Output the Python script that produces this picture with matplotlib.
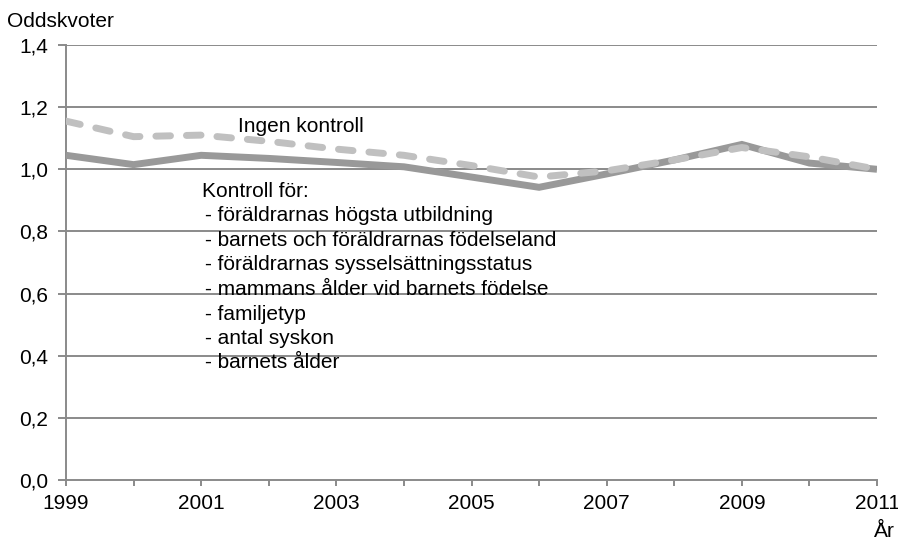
import matplotlib
matplotlib.use("Agg")
import matplotlib.pyplot as plt

years = list(range(1999, 2012))
kontroll = [1.045, 1.015, 1.045, 1.035, 1.022, 1.008, 0.975, 0.942, 0.985, 1.03, 1.08, 1.02, 1.0]
ingen = [1.155, 1.105, 1.11, 1.09, 1.065, 1.045, 1.012, 0.975, 0.995, 1.03, 1.07, 1.04, 1.0]
yticks = [0.0, 0.2, 0.4, 0.6, 0.8, 1.0, 1.2, 1.4]
labelled_years = [1999, 2001, 2003, 2005, 2007, 2009, 2011]
controls = ["- föräldrarnas högsta utbildning",
            "- barnets och föräldrarnas födelseland",
            "- föräldrarnas sysselsättningsstatus",
            "- mammans ålder vid barnets födelse",
            "- familjetyp",
            "- antal syskon",
            "- barnets ålder"]

W, H = 898, 545
plt.rcParams['font.family'] = ['Liberation Sans', 'DejaVu Sans']
FS = 15
fig = plt.figure(figsize=(W / 100, H / 100), dpi=100)
ax = fig.add_axes([66 / W, (H - 480) / H, (877 - 66) / W, (480 - 45) / H])

grid_c = '#8a8a8a'
for y in yticks[1:]:
    ax.axhline(y, color=grid_c, lw=1.4, zorder=1)

ax.plot(years, kontroll, color='#999999', lw=5, solid_joinstyle='miter',
        solid_capstyle='butt', zorder=3)
ax.plot(years, ingen, color='#c0c0c0', lw=5, dashes=(2.1, 2.3),
        dash_capstyle='round', zorder=4)

ax.set_xlim(1999, 2011)
ax.set_ylim(0, 1.4)
ax.set_yticks(yticks)
ax.set_yticklabels([f"{v:.1f}".replace('.', ',') for v in yticks], fontsize=FS)
ax.set_xticks(years)
ax.set_xticklabels([str(y) if y in labelled_years else '' for y in years], fontsize=FS)
ax.tick_params(axis='y', direction='out', length=6, width=1.4, color=grid_c, pad=7)
ax.tick_params(axis='x', direction='out', length=4, width=1.4, color=grid_c, pad=6)
for s in ['top', 'right']:
    ax.spines[s].set_visible(False)
for s in ['left', 'bottom']:
    ax.spines[s].set_color(grid_c)
    ax.spines[s].set_linewidth(1.4)

def ptext(px, py, s, ha='left'):
    fig.text(px / W, 1 - py / H, s, fontsize=FS, va='baseline', ha=ha)

ptext(7, 27, "Oddskvoter")
ptext(895, 537, "År", ha='right')
ptext(238, 132, "Ingen kontroll")
ptext(202, 197, "Kontroll för:")
for i, c in enumerate(controls):
    ptext(205, 197 + (i + 1) * 24.5, c)

fig.savefig("out.png", dpi=100)
